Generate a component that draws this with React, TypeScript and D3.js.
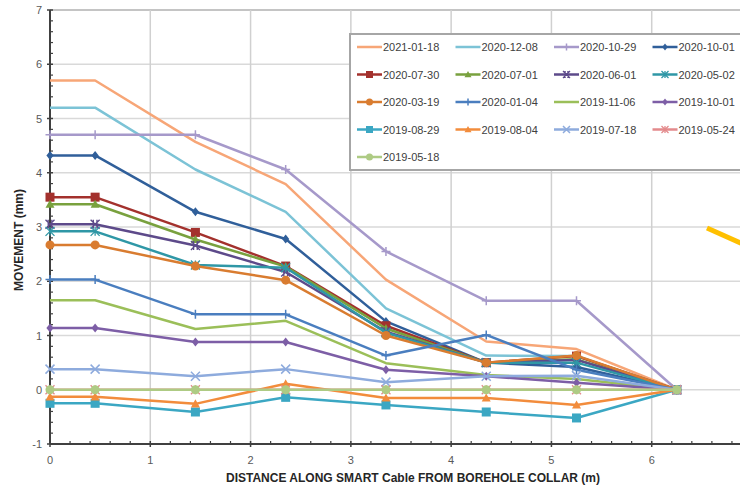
import React from "react";
import * as d3 from "d3";

const distances = [0, 0.45, 1.45, 2.35, 3.35, 4.35, 5.25, 6.25];

const seriesNames = [
  "2021-01-18", "2020-12-08", "2020-10-29", "2020-10-01",
  "2020-07-30", "2020-07-01", "2020-06-01", "2020-05-02",
  "2020-03-19", "2020-01-04", "2019-11-06", "2019-10-01",
  "2019-08-29", "2019-08-04", "2019-07-18", "2019-05-24",
  "2019-05-18",
];

const s20210118 = [5.7, 5.7, 4.57, 3.79, 2.03, 0.89, 0.75, 0];
const s20201208 = [5.2, 5.2, 4.06, 3.28, 1.5, 0.63, 0.62, 0];
const s20201029 = [4.7, 4.7, 4.7, 4.06, 2.55, 1.64, 1.64, 0];
const s20201001 = [4.32, 4.32, 3.28, 2.78, 1.26, 0.5, 0.42, 0];
const s20200730 = [3.55, 3.55, 2.9, 2.28, 1.18, 0.5, 0.62, 0];
const s20200701 = [3.42, 3.42, 2.77, 2.27, 1.13, 0.5, 0.56, 0];
const s20200601 = [3.05, 3.05, 2.66, 2.17, 1.07, 0.5, 0.55, 0];
const s20200502 = [2.92, 2.92, 2.3, 2.25, 1.05, 0.5, 0.5, 0];
const s20200319 = [2.67, 2.67, 2.28, 2.02, 1.0, 0.5, 0.63, 0];
const s20200104 = [2.03, 2.03, 1.39, 1.39, 0.63, 1.01, 0.37, 0];
const s20191106 = [1.65, 1.65, 1.12, 1.27, 0.49, 0.27, 0.2, 0];
const s20191001 = [1.14, 1.14, 0.88, 0.88, 0.37, 0.25, 0.13, 0];
const s20190829 = [-0.25, -0.25, -0.41, -0.14, -0.28, -0.41, -0.52, 0];
const s20190804 = [-0.13, -0.13, -0.26, 0.11, -0.15, -0.15, -0.28, 0];
const s20190718 = [0.38, 0.38, 0.25, 0.38, 0.14, 0.25, 0.26, 0];
const s20190524 = [0, 0, 0, 0, 0, 0, 0, 0];
const s20190518 = [0, 0, 0, 0, 0, 0, 0, 0];

const seriesValues = [
  s20210118, s20201208, s20201029, s20201001, s20200730, s20200701,
  s20200601, s20200502, s20200319, s20200104, s20191106, s20191001,
  s20190829, s20190804, s20190718, s20190524, s20190518,
];

const seriesColors = [
  "#F7A677", "#7CC3D6", "#A699CA", "#305F9A",
  "#A3312D", "#79A13E", "#5D4A8A", "#2F97A6",
  "#D97C30", "#4A7EBF", "#9BBF59", "#7D5EA6",
  "#3BA7C3", "#F28C3C", "#8EABDD", "#E38A8C",
  "#AECB84",
];

const seriesMarkers = [
  "none", "none", "plus", "diamond",
  "square", "triangle", "xbar", "star",
  "circle", "plus", "none", "diamond",
  "square", "triangle", "x", "star",
  "circle",
];

const xTicks = [0, 1, 2, 3, 4, 5, 6];
const yTicks = [-1, 0, 1, 2, 3, 4, 5, 6, 7];

const W = 740;
const H = 486;

function Marker({ type, cx, cy, color, s }: { type: string; cx: number; cy: number; color: string; s: number }) {
  const h = s / 2;
  switch (type) {
    case "square":
      return <rect x={cx - h} y={cy - h} width={s} height={s} fill={color} />;
    case "circle":
      return <circle cx={cx} cy={cy} r={h} fill={color} />;
    case "triangle":
      return <path d={`M${cx},${cy - h}L${cx + h},${cy + h * 0.8}L${cx - h},${cy + h * 0.8}Z`} fill={color} />;
    case "diamond":
      return <path d={`M${cx},${cy - h}L${cx + h * 0.8},${cy}L${cx},${cy + h}L${cx - h * 0.8},${cy}Z`} fill={color} />;
    case "plus":
      return (
        <path d={`M${cx},${cy - h}V${cy + h}M${cx - h},${cy}H${cx + h}`} stroke={color} strokeWidth={1.5} fill="none" />
      );
    case "x":
      return (
        <path d={`M${cx - h},${cy - h}L${cx + h},${cy + h}M${cx - h},${cy + h}L${cx + h},${cy - h}`} stroke={color} strokeWidth={1.5} fill="none" />
      );
    case "xbar":
      return (
        <path d={`M${cx - h},${cy - h}L${cx + h},${cy + h}M${cx - h},${cy + h}L${cx + h},${cy - h}M${cx - h * 0.4},${cy - h}V${cy + h}M${cx + h * 0.4},${cy - h}V${cy + h}`} stroke={color} strokeWidth={1.3} fill="none" />
      );
    case "star":
      return (
        <path d={`M${cx - h},${cy - h}L${cx + h},${cy + h}M${cx - h},${cy + h}L${cx + h},${cy - h}M${cx},${cy - h}V${cy + h}`} stroke={color} strokeWidth={1.3} fill="none" />
      );
    default:
      return null;
  }
}

export default function App() {
  const x = d3.scaleLinear().domain([0, 7]).range([50, 752]);
  const y = d3.scaleLinear().domain([-1, 7]).range([444, 10]);
  const line = d3
    .line<number>()
    .x((_, i) => x(distances[i]))
    .y((d) => y(d));

  const xMinor = d3.range(0, 35).map((i) => i * 0.2).filter((v) => Math.abs(v - Math.round(v)) > 1e-6);
  const yMinor = d3.range(-5, 35).map((i) => i * 0.2).filter((v) => Math.abs(v - Math.round(v)) > 1e-6);

  const font = "'Liberation Sans', Arial, sans-serif";

  const legendX = 350;
  const legendY = 34;
  const colW = 98.5;
  const rowH = 27.5;

  return (
    <svg width={W} height={H} style={{ position: "absolute", left: 0, top: 0, background: "#fff" }} fontFamily={font}>
      <rect x={0} y={0} width={W} height={H} fill="#fff" />
      {/* grid */}
      {yTicks.filter((t) => t > -1).map((t) => (
        <line key={"gy" + t} x1={x(0)} x2={x(7)} y1={y(t)} y2={y(t)} stroke={t === 7 ? "#b0b0b0" : "#d9d9d9"} strokeWidth={1.5} />
      ))}
      {xTicks.filter((t) => t > 0).map((t) => (
        <line key={"gx" + t} x1={x(t)} x2={x(t)} y1={y(7)} y2={y(-1)} stroke="#d0d0d0" strokeWidth={1.5} />
      ))}
      {/* axes */}
      <line x1={x(0)} x2={x(0)} y1={y(7)} y2={y(-1)} stroke="#404040" strokeWidth={2} />
      <line x1={x(0)} x2={x(7)} y1={y(-1)} y2={y(-1)} stroke="#404040" strokeWidth={2} />
      {yTicks.map((t) => (
        <line key={"yt" + t} x1={x(0) - 3} x2={x(0) + 3} y1={y(t)} y2={y(t)} stroke="#404040" strokeWidth={1.5} />
      ))}
      {yMinor.map((t) => (
        <line key={"ym" + t} x1={x(0)} x2={x(0) + 3} y1={y(t)} y2={y(t)} stroke="#404040" strokeWidth={1.2} />
      ))}
      {xTicks.map((t) => (
        <line key={"xt" + t} x1={x(t)} x2={x(t)} y1={y(-1) - 3} y2={y(-1) + 3} stroke="#404040" strokeWidth={1.5} />
      ))}
      {xMinor.map((t) => (
        <line key={"xm" + t} x1={x(t)} x2={x(t)} y1={y(-1) - 3} y2={y(-1)} stroke="#404040" strokeWidth={1.2} />
      ))}
      {yTicks.map((t) => (
        <text key={"yl" + t} x={42} y={y(t) + 4} textAnchor="end" fontSize={11} fill="#595959">
          {t}
        </text>
      ))}
      {xTicks.map((t) => (
        <text key={"xl" + t} x={x(t)} y={464} textAnchor="middle" fontSize={11} fill="#595959">
          {t}
        </text>
      ))}
      <text x={413} y={482} textAnchor="middle" fontSize={12} fontWeight="bold" fill="#262626">
        DISTANCE ALONG SMART Cable FROM BOREHOLE COLLAR (m)
      </text>
      <text transform={`translate(23,240) rotate(-90)`} textAnchor="middle" fontSize={12} fontWeight="bold" fill="#262626">
        MOVEMENT (mm)
      </text>
      {/* series */}
      {seriesValues.map((vals, si) => (
        <g key={"s" + si}>
          <path d={line(vals) || ""} fill="none" stroke={seriesColors[si]} strokeWidth={2.5} strokeLinejoin="round" />
          {vals.map((v, i) => (
            <Marker key={i} type={seriesMarkers[si]} cx={x(distances[i])} cy={y(v)} color={seriesColors[si]} s={9} />
          ))}
        </g>
      ))}
      {/* legend */}
      <rect x={legendX} y={legendY} width={420} height={136} fill="#fff" stroke="#a6a6a6" strokeWidth={2} />
      {seriesNames.map((name, i) => {
        const c = i % 4;
        const r = Math.floor(i / 4);
        const lx = legendX + 7 + c * colW;
        const ly = legendY + 13 + r * rowH;
        return (
          <g key={"lg" + i}>
            <line x1={lx} x2={lx + 25} y1={ly} y2={ly} stroke={seriesColors[i]} strokeWidth={2.5} />
            <Marker type={seriesMarkers[i]} cx={lx + 12.5} cy={ly} color={seriesColors[i]} s={7} />
            <text x={lx + 26} y={ly + 4} fontSize={11} fill="#404040">
              {name}
            </text>
          </g>
        );
      })}
      {/* annotation stroke */}
      <line x1={707} y1={228} x2={745} y2={245} stroke="#FFC000" strokeWidth={5} />
    </svg>
  );
}
